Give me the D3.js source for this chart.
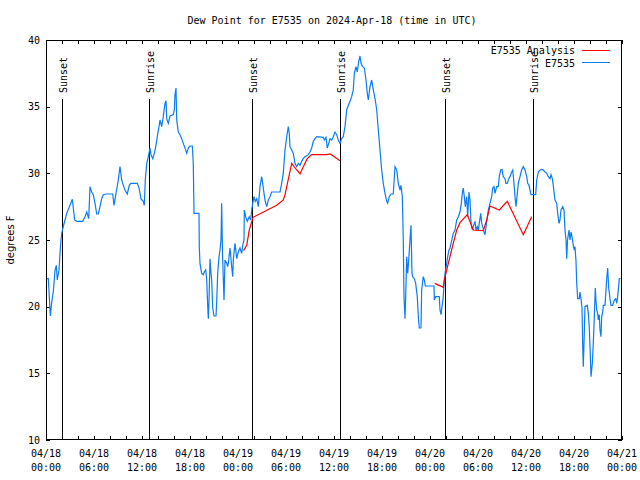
<!DOCTYPE html>
<html><head><meta charset="utf-8">
<script src="https://cdn.jsdelivr.net/npm/d3@7"></script>
<style>
body{margin:0;background:#fff;}
svg{display:block;}
text{font-family:"DejaVu Sans Mono",monospace;font-size:10px;fill:#000;}
</style></head><body>
<svg id="c" width="640" height="480"></svg>
<script>
const title = "Dew Point for E7535 on 2024-Apr-18 (time in UTC)";
const yLabel = "degrees F";
const xTickHours = [0,6,12,18,24,30,36,42,48,54,60,66,72];
const xTickDates = ["04/18","04/18","04/18","04/18","04/19","04/19","04/19","04/19","04/20","04/20","04/20","04/20","04/21"];
const xTickTimes = ["00:00","06:00","12:00","18:00","00:00","06:00","12:00","18:00","00:00","06:00","12:00","18:00","00:00"];
const yTicks = [10,15,20,25,30,35,40];
const sunEventHours = [1.96, 12.9, 25.8, 36.8, 49.9, 60.85];
const sunEventNames = ["Sunset","Sunrise","Sunset","Sunrise","Sunset","Sunrise"];
const seriesNames = ["E7535 Analysis","E7535"];

// observations (hours since 04/18 00:00 UTC, deg F)
const obsHours = [0.125,0.29,0.54,0.71,0.91,1.125,1.29,1.41,1.625,1.75,1.875,1.96,2.16,2.375,2.59,3.0,3.29,3.59,3.84,4.59,4.875,5.09,5.34,5.5,5.71,5.91,6.125,6.34,6.54,6.75,6.96,7.16,7.59,8.34,8.5,8.75,9.04,9.25,9.46,9.66,9.875,10.16,10.41,10.59,11.41,11.625,11.875,12.16,12.29,12.41,12.59,12.79,13.0,13.125,13.34,13.54,13.75,13.91,14.125,14.25,14.46,14.66,14.875,15.0,15.09,15.29,15.5,15.91,16.04,16.125,16.25,16.34,16.54,16.75,16.96,17.16,17.375,17.59,17.79,18.0,18.29,18.41,18.5,19.125,19.16,19.25,19.46,19.66,19.79,19.96,20.09,20.21,20.29,20.375,20.5,20.625,20.71,20.84,21.0,21.25,21.34,21.46,21.625,21.75,21.875,21.96,22.06,22.25,22.375,22.59,22.71,22.79,23.0,23.21,23.34,23.41,23.625,23.84,24.04,24.25,24.46,24.59,24.75,24.79,24.96,25.16,25.41,25.59,25.71,25.84,26.0,26.16,26.34,26.54,26.75,26.96,27.09,27.25,27.41,27.59,27.79,28.0,28.21,29.25,29.46,29.66,29.875,30.09,30.29,30.41,30.5,30.71,30.91,31.125,31.34,31.54,31.75,31.96,32.16,32.375,32.79,33.0,33.21,33.41,33.625,33.84,34.66,34.79,35.0,35.16,35.34,35.5,35.71,35.91,36.125,36.34,36.54,36.75,36.96,37.16,37.375,37.59,37.79,38.0,38.21,38.41,38.54,38.75,38.91,39.09,39.25,39.375,39.59,39.79,40.0,40.16,40.29,40.5,40.71,40.84,41.0,41.16,41.34,41.54,41.75,41.96,42.16,42.375,42.59,42.71,42.91,43.125,43.41,43.625,43.84,44.04,44.25,44.375,44.54,44.66,44.75,44.875,44.96,45.09,45.21,45.34,45.5,45.625,45.75,45.84,46.04,46.21,46.41,46.54,46.66,46.875,46.96,47.16,47.29,47.41,48.5,48.54,48.71,49.16,49.25,49.375,49.5,49.66,49.79,49.875,50.09,50.21,50.375,50.5,50.91,51.125,51.34,51.54,51.75,51.91,52.04,52.16,52.29,52.41,52.59,52.71,52.875,53.0,53.125,53.29,53.41,53.625,53.75,53.91,54.04,54.16,54.34,54.46,54.59,54.75,54.875,55.09,55.29,55.5,55.71,55.84,56.0,56.125,56.34,56.54,56.66,56.84,57.0,57.16,57.375,57.5,57.66,57.84,58.0,58.21,58.34,58.5,58.625,58.75,58.875,59.04,59.25,59.46,59.66,59.875,60.09,60.21,60.375,60.5,60.625,61.21,61.34,61.54,61.75,61.96,62.16,62.375,62.59,62.79,63.0,63.125,63.29,63.41,63.625,63.84,63.96,64.125,64.25,64.375,64.59,64.75,64.875,65.0,65.09,65.19,65.375,65.5,65.625,65.75,65.91,66.04,66.125,66.25,66.34,66.46,66.66,66.75,66.875,67.0,67.09,67.16,67.25,67.375,67.66,67.79,67.91,68.0,68.125,68.29,68.41,68.54,68.66,68.75,68.84,68.96,69.04,69.16,69.25,69.375,69.46,69.59,69.66,69.875,70.09,70.21,70.34,70.5,70.625,70.84,71.04,71.21,71.34,71.46,71.59,71.66,71.81];
const obsValues = [22.1,22.1,19.3,20.3,21.1,22.7,23.1,22.0,22.75,24.0,25.0,25.5,26.0,26.5,27.0,27.6,28.05,26.5,26.4,26.4,26.75,27.1,26.6,29.0,28.6,28.4,27.75,26.95,26.95,27.5,28.1,28.4,28.45,28.45,27.6,28.5,29.5,30.5,29.5,29.1,28.75,28.45,29.1,29.25,29.25,28.9,28.1,27.9,27.6,29.5,30.75,31.25,31.9,31.4,31.1,31.5,32.1,32.75,33.5,34.0,33.5,34.25,35.25,35.45,34.1,33.75,34.3,34.4,34.75,35.9,36.4,34.0,33.1,32.9,32.6,32.25,31.9,31.5,31.9,32.05,32.05,30.75,27.0,27.0,24.5,23.25,22.5,22.4,22.6,22.75,22.0,20.1,19.1,20.4,23.6,22.5,22.0,19.9,19.3,19.3,20.4,22.5,23.75,24.25,25.0,27.75,24.0,20.5,23.5,23.25,23.0,23.25,24.4,23.0,22.25,23.5,24.75,23.6,24.1,24.4,24.0,24.6,25.0,27.25,26.75,26.4,26.75,26.5,27.25,27.75,28.25,27.9,28.1,27.5,29.0,29.75,29.25,28.5,27.9,27.5,28.0,28.25,28.6,28.6,29.25,30.0,31.75,32.75,33.5,33.0,32.0,31.75,31.5,30.75,30.5,30.75,30.6,30.9,31.1,31.25,31.4,31.6,31.9,32.4,32.6,32.75,32.7,32.5,32.7,31.9,32.25,32.6,32.5,32.75,33.1,32.9,32.5,32.25,32.6,32.75,33.5,34.75,35.1,35.4,35.75,36.25,37.5,38.0,37.6,38.4,38.8,38.25,38.0,37.9,37.0,36.0,35.5,36.5,37.0,36.5,36.0,35.5,34.75,33.25,31.75,30.25,29.25,28.5,27.9,27.75,28.25,28.45,28.45,30.5,30.25,29.25,28.75,29.1,28.25,25.0,20.75,19.1,20.75,23.75,22.5,23.5,25.0,26.1,22.5,22.25,22.1,21.75,20.75,19.25,18.4,18.4,21.25,22.25,22.0,21.55,21.55,20.5,20.75,20.75,19.75,19.4,20.0,20.75,22.0,22.5,23.25,23.75,24.25,24.4,25.5,25.75,26.5,26.75,27.1,27.75,28.5,28.9,28.25,27.5,28.25,26.75,28.6,28.0,26.25,25.75,26.0,26.4,25.75,26.0,25.75,26.25,27.0,26.25,26.0,25.6,25.4,26.4,27.25,27.75,28.25,28.9,29.0,28.5,29.0,29.0,29.75,30.25,30.3,29.75,29.6,29.25,29.25,29.6,29.75,30.1,30.25,29.25,28.25,27.5,28.25,29.25,29.75,30.25,30.5,30.25,29.75,29.25,29.1,28.75,28.4,28.4,29.5,30.1,30.25,30.3,30.25,30.1,30.0,29.75,29.6,29.9,29.6,29.1,28.0,27.75,27.0,26.25,26.5,27.25,27.5,27.25,25.75,25.0,23.6,25.0,25.75,25.0,25.6,25.25,24.6,24.25,24.5,23.4,21.75,20.6,20.6,21.1,20.6,19.9,17.0,15.5,17.25,20.0,20.1,19.5,18.4,17.0,14.75,15.75,17.25,19.25,21.4,20.4,19.75,19.5,19.0,19.4,18.25,17.75,19.25,19.6,20.1,20.1,22.1,22.9,21.4,20.6,20.1,20.1,20.5,20.6,20.25,20.75,21.6,22.1,22.1];

// analysis segments
const ana1Hours = [24.69,25.09,25.41,25.88,28.84,29.66,29.88,30.71,31.34,31.75,32.25,32.66,33.21,35.09,35.5,35.91,36.75];
const ana1Values = [24.2,24.6,25.75,26.7,27.6,28.0,28.4,30.75,30.25,29.95,30.6,31.1,31.4,31.4,31.45,31.3,30.95];
const ana2Hours = [48.6,49.66,49.79,50.29,50.91,51.34,51.75,52.66,53.41,54.66,55.09,55.5,56.66,57.66,59.66,60.71];
const ana2Values = [21.75,21.45,22.0,23.25,24.75,25.75,26.3,26.9,25.75,25.7,26.5,27.55,27.25,27.9,25.4,26.75];

const svg = d3.select("#c");
const L = 46, R = 622, T = 40, B = 440;
const x = d3.scaleLinear().domain([0,72]).range([L,R]);
const y = d3.scaleLinear().domain([10,40]).range([B,T]);
const blue = "#0a7cf5", red = "#ff0000";

// title
svg.append("text").attr("x",332).attr("y",24).attr("text-anchor","middle").text(title);
// y label
svg.append("text").attr("transform","translate(14,240) rotate(-90)").attr("text-anchor","middle")
  .style("font-family","'DejaVu Sans',sans-serif").text(yLabel);

const minorTicks = d3.range(0,73,2);
const gB = svg.append("g").attr("transform",`translate(0,${B})`)
  .call(d3.axisBottom(x).tickValues(minorTicks).tickSize(-4).tickFormat(""));
const gT = svg.append("g").attr("transform",`translate(0,${T})`)
  .call(d3.axisTop(x).tickValues(minorTicks).tickSize(-4).tickFormat(""));
const gL = svg.append("g").attr("transform",`translate(${L},0)`)
  .call(d3.axisLeft(y).tickValues(yTicks).tickSize(-4).tickFormat(""));
const gR = svg.append("g").attr("transform",`translate(${R},0)`)
  .call(d3.axisRight(y).tickValues(yTicks).tickSize(-4).tickFormat(""));
[gB,gT,gL,gR].forEach(g=>{g.select(".domain").remove(); g.selectAll("line").attr("stroke","#000").attr("shape-rendering","crispEdges");});

// x labels
xTickHours.forEach((h,i)=>{
  const t = svg.append("text").attr("x",x(h)).attr("text-anchor","middle");
  t.append("tspan").attr("x",x(h)).attr("y",457).text(xTickDates[i]);
  t.append("tspan").attr("x",x(h)).attr("y",471).text(xTickTimes[i]);
});
// y labels
yTicks.forEach(v=>{
  svg.append("text").attr("x",40).attr("y",y(v)).attr("dy","0.35em").attr("text-anchor","end").text(v);
});

// sun event lines
sunEventHours.forEach((h,i)=>{
  const xx = Math.round(x(h))+0.5;
  svg.append("line").attr("x1",xx).attr("x2",xx).attr("y1",B).attr("y2",99)
    .attr("stroke","#000").attr("stroke-width",1).attr("shape-rendering","crispEdges");
  svg.append("text").attr("transform",`translate(${xx+4},93) rotate(-90)`).attr("text-anchor","start").text(sunEventNames[i]);
});

const line = d3.line().x(d=>x(d[0])).y(d=>y(d[1]));
svg.append("path").datum(obsHours.map((h,i)=>[h,obsValues[i]]))
  .attr("d",line).attr("fill","none").attr("stroke",blue).attr("stroke-width",1.2);
[[ana1Hours,ana1Values],[ana2Hours,ana2Values]].forEach(([hs,vs])=>{
  svg.append("path").datum(hs.map((h,i)=>[h,vs[i]]))
    .attr("d",line).attr("fill","none").attr("stroke",red).attr("stroke-width",1.2);
});

// frame
svg.append("rect").attr("x",L+0.5).attr("y",T+0.5).attr("width",R-L-1).attr("height",B-T-1)
  .attr("fill","none").attr("stroke","#000").attr("shape-rendering","crispEdges");

// legend
svg.append("text").attr("x",575).attr("y",50).attr("dy","0.35em").attr("text-anchor","end").text(seriesNames[0]);
svg.append("line").attr("x1",582).attr("x2",610).attr("y1",50.5).attr("y2",50.5).attr("stroke",red);
svg.append("text").attr("x",575).attr("y",63).attr("dy","0.35em").attr("text-anchor","end").text(seriesNames[1]);
svg.append("line").attr("x1",582).attr("x2",610).attr("y1",62.5).attr("y2",62.5).attr("stroke",blue);
</script>
</body></html>
